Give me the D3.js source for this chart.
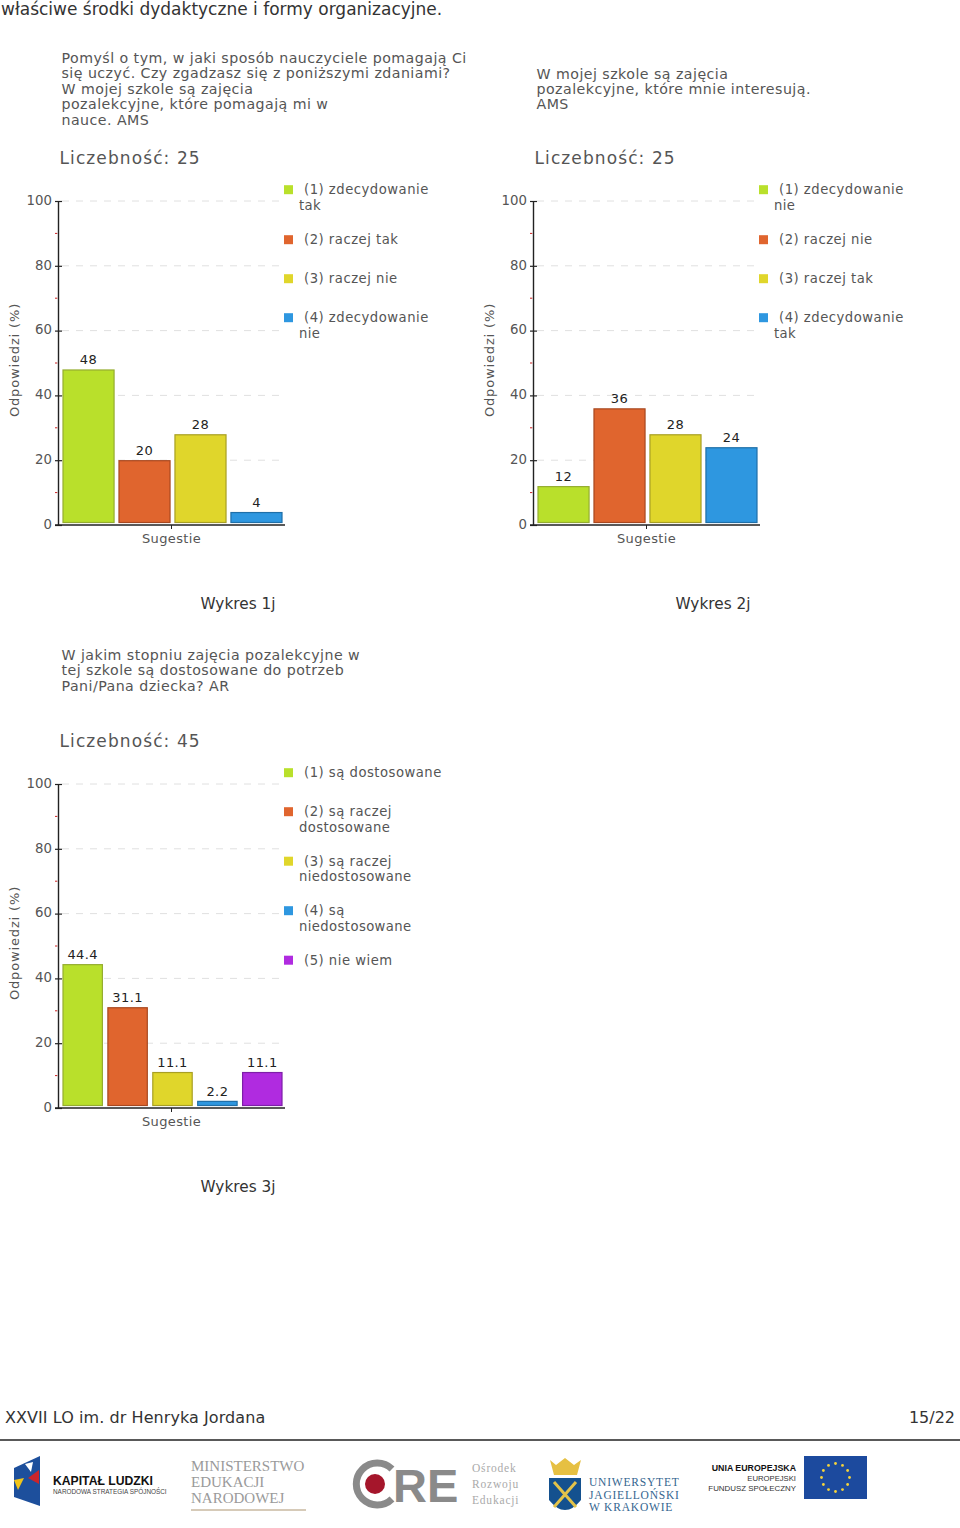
<!DOCTYPE html>
<html><head><meta charset="utf-8">
<script src="https://cdnjs.cloudflare.com/ajax/libs/d3/7.8.5/d3.min.js"></script>
<style>
html,body{margin:0;padding:0;background:#fff}
svg{display:block;font-family:"DejaVu Sans",Verdana,sans-serif}
</style></head><body>
<svg id="page" width="960" height="1528"></svg>
<script>
const yTicks = [0,20,40,60,80,100];
const yMinor = [10,30,50,70,90];
const palette = ["#b9e02b","#e0652e","#e0d62b","#2e97e0","#b02be0"];
const borders = ["#95ad30","#a8481f","#a89f24","#1f6fa8","#7e1fa8"];

const labels1 = ["(1) zdecydowanie|tak","(2) raczej tak","(3) raczej nie","(4) zdecydowanie|nie"];
const values1 = [48,20,28,4];
const title1 = ["Pomyśl o tym, w jaki sposób nauczyciele pomagają Ci","się uczyć. Czy zgadzasz się z poniższymi zdaniami?","W mojej szkole są zajęcia","pozalekcyjne, które pomagają mi w","nauce. AMS"];
const labels2 = ["(1) zdecydowanie|nie","(2) raczej nie","(3) raczej tak","(4) zdecydowanie|tak"];
const values2 = [12,36,28,24];
const title2 = ["W mojej szkole są zajęcia","pozalekcyjne, które mnie interesują.","AMS"];
const labels3 = ["(1) są dostosowane","(2) są raczej|dostosowane","(3) są raczej|niedostosowane","(4) są|niedostosowane","(5) nie wiem"];
const values3 = [44.4,31.1,11.1,2.2,11.1];
const title3 = ["W jakim stopniu zajęcia pozalekcyjne w","tej szkole są dostosowane do potrzeb","Pani/Pana dziecka? AR"];

const svg = d3.select("#page");
const grey = "#555";

function chart(o){
  const g = svg.append("g");
  const L = o.x, R = o.x+227, T = o.y, B = o.y+324;
  const y = d3.scaleLinear().domain([0,100]).range([B,T]);
  const x = d3.scaleBand().domain(d3.range(o.values.length)).range([L+4.5,R-2.5]).paddingInner(o.values.length>4?0.1:0.07);
  g.append("g").selectAll("text").data(o.title).join("text")
    .attr("x",o.x+3.5).attr("y",(d,i)=>o.titleY+i*15.4).attr("font-size",14.2).attr("letter-spacing",0.46).attr("fill",grey).text(d=>d);
  g.append("text").attr("x",o.x+1.5).attr("y",T-37).attr("font-size",17).attr("fill",grey).attr("letter-spacing",1.1).text("Liczebność: "+o.n);
  g.append("g").selectAll("line").data(yTicks.slice(1)).join("line")
    .attr("x1",L+4).attr("x2",R).attr("y1",y).attr("y2",y)
    .attr("stroke","#e0e0e0").attr("stroke-dasharray","7 7");
  g.append("g").selectAll("line").data(yMinor).join("line")
    .attr("x1",L-3).attr("x2",L-0.7).attr("y1",y).attr("y2",y).attr("stroke","#c22");
  g.append("g").selectAll("rect").data(o.values).join("rect")
    .attr("x",(d,i)=>x(i)+.5).attr("width",x.bandwidth()-1)
    .attr("y",d=>y(d)+.5).attr("height",d=>y(0)-3-y(d))
    .attr("fill",(d,i)=>palette[i]).attr("stroke",(d,i)=>borders[i]).attr("stroke-width",1.2);
  g.append("g").selectAll("text").data(o.values).join("text")
    .attr("x",(d,i)=>x(i)+x.bandwidth()/2).attr("y",d=>y(d)-5).attr("text-anchor","middle")
    .attr("font-size",13).attr("fill","#222").attr("letter-spacing",0.4).text(d=>d);
  const ay = d3.axisLeft(y).tickValues(yTicks).tickSize(0).tickPadding(6);
  const ga = g.append("g").attr("transform",`translate(${L},0)`).call(ay);
  ga.attr("font-family",null);
  ga.select(".domain").attr("stroke","#222").attr("stroke-width",1.4);
  ga.selectAll("text").attr("font-size",13.3).attr("fill",grey).attr("dy","0.24em");
  ga.selectAll(".tick").append("line").attr("x1",-3).attr("x2",4).attr("stroke","#222").attr("stroke-width",1.2);
  g.append("line").attr("x1",L-3).attr("x2",R).attr("y1",B).attr("y2",B).attr("stroke","#222").attr("stroke-width",1.4);
  g.append("line").attr("x1",(L+R)/2).attr("x2",(L+R)/2).attr("y1",B).attr("y2",B+4).attr("stroke","#222");
  g.append("text").attr("x",(L+R)/2).attr("y",B+18).attr("text-anchor","middle").attr("font-size",13).attr("letter-spacing",0.35).attr("fill",grey).text("Sugestie");
  g.append("text").attr("transform",`translate(${L-39},${(T+B)/2-3}) rotate(-90)`).attr("text-anchor","middle").attr("font-size",13).attr("letter-spacing",0.85).attr("fill",grey).text("Odpowiedzi (%)");
  const lg = g.append("g");
  let ly = T-11.3;
  o.labels.forEach((s,i)=>{
    const parts = s.split("|");
    lg.append("rect").attr("x",o.x+226).attr("y",ly-4.5).attr("width",9).attr("height",9).attr("fill",palette[i]);
    lg.append("text").attr("x",o.x+246).attr("y",ly+4.5).attr("font-size",13.2).attr("letter-spacing",0.5).attr("fill",grey).text(parts[0]);
    if(parts[1]) lg.append("text").attr("x",o.x+241).attr("y",ly+20).attr("font-size",13.2).attr("letter-spacing",0.4).attr("fill",grey).text(parts[1]);
    ly += o.legendStep[i];
  });
  g.append("text").attr("x",o.x+180).attr("y",B+84).attr("text-anchor","middle").attr("font-size",15.3).attr("fill","#333").text(o.caption);
}

svg.append("text").attr("x",1).attr("y",15).attr("font-size",17).attr("fill","#333").text("właściwe środki dydaktyczne i formy organizacyjne.");

chart({x:58,y:201,values:values1,labels:labels1,title:title1,titleY:63,n:25,caption:"Wykres 1j",legendStep:[50,39,39,39]});
chart({x:533,y:201,values:values2,labels:labels2,title:title2,titleY:78.5,n:25,caption:"Wykres 2j",legendStep:[50,39,39,39]});
chart({x:58,y:784,values:values3,labels:labels3,title:title3,titleY:660,n:45,caption:"Wykres 3j",legendStep:[39,49.5,49.5,49.5,39]});

svg.append("text").attr("x",5).attr("y",1423).attr("font-size",16).attr("letter-spacing",0.07).attr("fill","#333").text("XXVII LO im. dr Henryka Jordana");
svg.append("text").attr("x",955).attr("y",1423).attr("text-anchor","end").attr("font-size",16).attr("fill","#333").text("15/22");
svg.append("line").attr("x1",0).attr("x2",960).attr("y1",1440).attr("y2",1440).attr("stroke","#222").attr("stroke-width",1.6);

const f = svg.append("g");
function t(x,y,s,size,fill,weight,family,anchor,ls){
  f.append("text").attr("x",x).attr("y",y).attr("font-size",size).attr("fill",fill)
   .attr("font-weight",weight||400).attr("letter-spacing",ls||0).attr("text-anchor",anchor||"start")
   .style("font-family",family||'"Liberation Sans"').text(s);
}
const serif='"Liberation Serif"';
f.append("path").attr("d","M14 1468 L40 1456 V1506 L14 1497Z").attr("fill","#1d4f9c");
f.append("path").attr("d","M14 1480 L24 1478 L18 1490Z").attr("fill","#f0c419");
f.append("path").attr("d","M28 1478 L39 1470 L39 1484Z").attr("fill","#c9252c");
f.append("path").attr("d","M25 1464 L33 1462 L31 1472Z").attr("fill","#fff");
t(53,1485,"KAPITAŁ LUDZKI",12.2,"#111",700);
t(53,1494,"NARODOWA STRATEGIA SPÓJNOŚCI",6.4,"#444");
["MINISTERSTWO","EDUKACJI","NARODOWEJ"].forEach((s,i)=>t(191,1471+i*16,s,15,"#9a9a9a",400,serif));
f.append("line").attr("x1",191).attr("x2",306).attr("y1",1510).attr("y2",1510).attr("stroke","#c9b9a0").attr("stroke-width",1.5);
f.append("path").attr("d","M392 1469 A21 21 0 1 0 392 1499").attr("fill","none").attr("stroke","#8a8a8a").attr("stroke-width",7);
f.append("circle").attr("cx",375).attr("cy",1484).attr("r",10).attr("fill","#a5162b");
t(393,1502,"RE",47,"#8a8a8a",700);
["Ośrodek","Rozwoju","Edukacji"].forEach((s,i)=>t(472,1472+i*16,s,11.5,"#aaa",400,serif,"start",0.8));
f.append("path").attr("d","M549 1478 H581 V1500 Q565 1520 549 1500Z").attr("fill","#14518f");
f.append("path").attr("d","M554 1482 L576 1507 M576 1482 L554 1507").attr("stroke","#e3c34a").attr("stroke-width",3);
f.append("path").attr("d","M550 1460 L556 1465 L565 1458 L574 1465 L581 1460 L577 1475 H554Z").attr("fill","#e6c042");
["UNIWERSYTET","JAGIELLOŃSKI","W KRAKOWIE"].forEach((s,i)=>t(589,1486+i*12.5,s,11.5,"#34658f",400,serif,"start",0.8));
t(796,1471,"UNIA EUROPEJSKA",8.8,"#111",700,null,"end");
t(796,1481,"EUROPEJSKI",7.7,"#333",400,null,"end");
t(796,1491,"FUNDUSZ SPOŁECZNY",7.9,"#333",400,null,"end");
f.append("rect").attr("x",804).attr("y",1456).attr("width",63).attr("height",43).attr("fill","#1c4a9e");
d3.range(12).forEach(i=>f.append("circle").attr("cx",835.5+14*Math.cos(i*Math.PI/6)).attr("cy",1477.5+14*Math.sin(i*Math.PI/6)).attr("r",1.4).attr("fill","#f5d33a"));
</script></body></html>
